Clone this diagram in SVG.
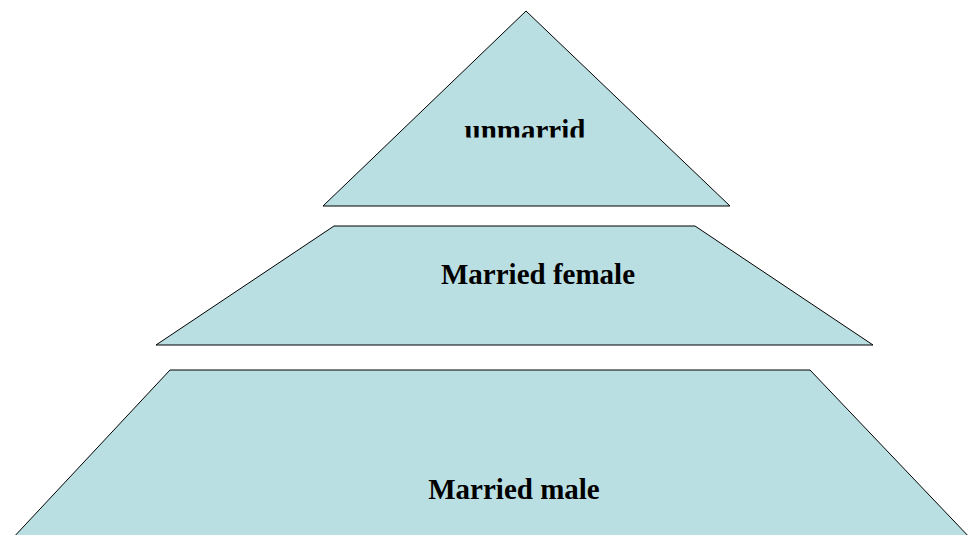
<svg xmlns="http://www.w3.org/2000/svg" width="975" height="535" viewBox="0 0 975 535">
<style>
.shape{fill:#BADFE3;stroke:#000;stroke-width:1;stroke-linejoin:miter}
.lbl{font-family:"Liberation Serif","Times New Roman",serif;font-weight:bold;font-size:29px;fill:#000;text-anchor:middle}
</style>
<defs>
<clipPath id="clipTop"><rect x="300" y="0" width="450" height="137.5"/></clipPath>
</defs>
<rect width="975" height="535" fill="#fff"/>
<g id="unmarried">
<polygon class="shape" points="526,11 730,206 323,206"/>
<text class="lbl" x="525" y="140" clip-path="url(#clipTop)">unmarrid</text>
</g>
<g id="married-female">
<polygon class="shape" points="334,226 695,226 873,345 156,345"/>
<text class="lbl" x="538" y="284">Married female</text>
</g>
<g id="married-male">
<polygon class="shape" points="170,370 810,370 972,540 11,540"/>
<text class="lbl" x="514" y="499">Married male</text>
</g>
<g id="connectors"/>
</svg>
